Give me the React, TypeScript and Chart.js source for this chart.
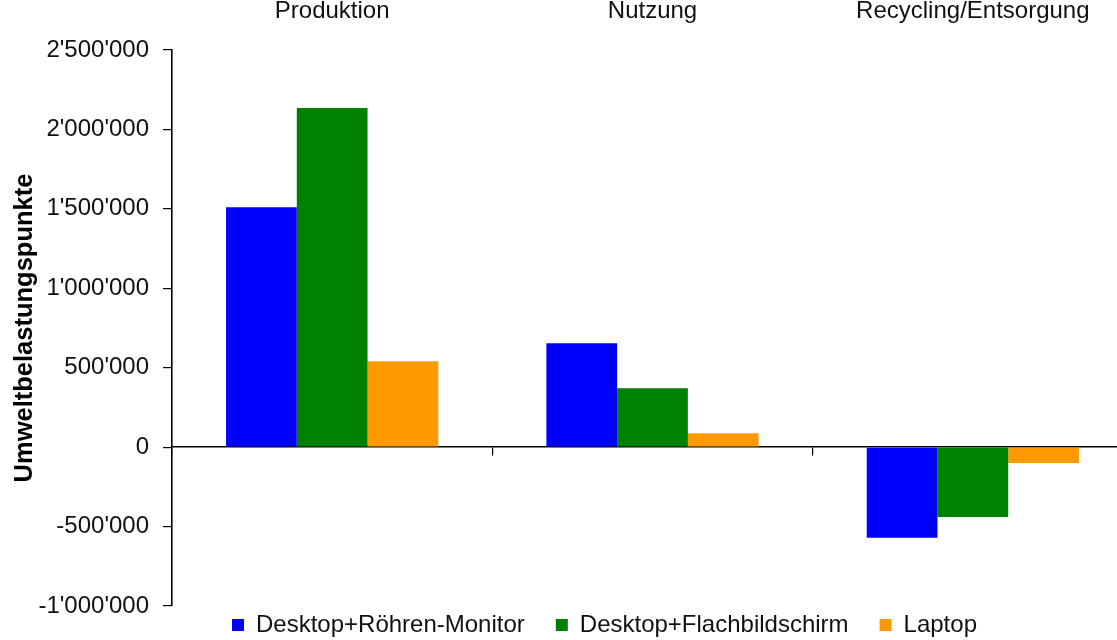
import React, { useEffect, useRef } from 'react';
import { Chart, registerables } from 'chart.js';

Chart.register(...registerables);

const categories = ['Produktion', 'Nutzung', 'Recycling/Entsorgung'];
const seriesNames = ['Desktop+Röhren-Monitor', 'Desktop+Flachbildschirm', 'Laptop'];
const roehrenValues = [1510000, 654000, -570000];
const flachValues = [2135000, 370000, -440000];
const laptopValues = [540000, 87000, -100000];
const yTicks = [-1000000, -500000, 0, 500000, 1000000, 1500000, 2000000, 2500000];
const yAxisTitle = 'Umweltbelastungspunkte';

const seriesColors = ['#0000ff', '#008000', '#ff9900'];
const FONT = "'Liberation Sans', Arial, Helvetica, sans-serif";
const TEXT = '#111111';

function fmt(v: number): string {
  const s = Math.abs(Math.round(v))
    .toString()
    .replace(/\B(?=(\d{3})+(?!\d))/g, "'");
  return (v < 0 ? '-' : '') + s;
}

const legendPlacer = {
  id: 'legendPlacer',
  afterLayout(chart: any) {
    const lg = chart.legend;
    if (!lg) return;
    lg.top = 582;
    lg.bottom = 640;
    lg.height = 58;
  },
};

export default function App() {
  const ref = useRef<HTMLCanvasElement | null>(null);

  useEffect(() => {
    if (!ref.current) return;
    const values = [roehrenValues, flachValues, laptopValues];
    const chart = new Chart(ref.current, {
      type: 'bar',
      data: {
        labels: categories,
        datasets: seriesNames.map((name, i) => ({
          label: name,
          data: values[i],
          backgroundColor: seriesColors[i],
          borderColor: seriesColors[i],
          borderWidth: 0,
          categoryPercentage: 0.6625,
          barPercentage: 1,
        })),
      },
      options: {
        responsive: false,
        animation: false,
        devicePixelRatio: 1,
        layout: { padding: 0 },
        plugins: {
          legend: {
            position: 'bottom',
            maxHeight: 34,
            labels: {
              boxWidth: 12,
              boxHeight: 12,
              padding: 31,
              color: TEXT,
              font: { family: FONT, size: 24 },
            },
          },
          tooltip: { enabled: false },
        },
        scales: {
          x: {
            type: 'category',
            position: { y: 0 } as any,
            offset: true,
            z: 1,
            grid: {
              display: true,
              offset: true,
              drawOnChartArea: false,
              drawTicks: true,
              tickLength: 8,
              color: '#000',
              lineWidth: 1.2,
            },
            border: { display: true, color: '#000', width: 1.6 },
            ticks: { display: false },
          },
          xTop: {
            type: 'category',
            axis: 'x',
            position: 'top',
            offset: true,
            grid: { display: false },
            border: { display: false },
            ticks: {
              color: TEXT,
              font: { family: FONT, size: 24 },
              padding: 16,
              maxRotation: 0,
              autoSkip: false,
            },
            afterFit: (s: any) => {
              s.height = 50;
            },
          } as any,
          y: {
            type: 'linear',
            position: 'left',
            min: yTicks[0],
            max: yTicks[yTicks.length - 1],
            z: 1,
            afterBuildTicks: (s: any) => {
              s.ticks = yTicks.map((v) => ({ value: v }));
            },
            ticks: {
              callback: (v: any) => fmt(Number(v)),
              color: TEXT,
              font: { family: FONT, size: 24 },
              padding: 14,
            },
            grid: {
              display: true,
              drawOnChartArea: false,
              drawTicks: true,
              tickLength: 9,
              color: '#000',
              lineWidth: 1.2,
            },
            border: { display: true, color: '#000', width: 1.6 },
            title: {
              display: true,
              text: yAxisTitle,
              color: '#000',
              font: { family: FONT, size: 25.5, weight: 'bold' },
              padding: { top: 10, bottom: 0 },
            },
            afterFit: (s: any) => {
              s.width = 172;
            },
          },
          yR: {
            type: 'linear',
            position: 'right',
            display: true,
            grid: { display: false },
            border: { display: false },
            ticks: { display: false },
            afterFit: (s: any) => {
              s.width = 76;
            },
          },
        },
      },
      plugins: [legendPlacer],
    });
    return () => chart.destroy();
  }, []);

  return (
    <div
      style={{
        position: 'fixed',
        left: 0,
        top: 0,
        width: 1117,
        height: 640,
        overflow: 'hidden',
        background: '#fff',
      }}
    >
      <canvas
        ref={ref}
        width={1209}
        height={640}
        style={{ display: 'block', width: '1209px', height: '640px' }}
      />
    </div>
  );
}
